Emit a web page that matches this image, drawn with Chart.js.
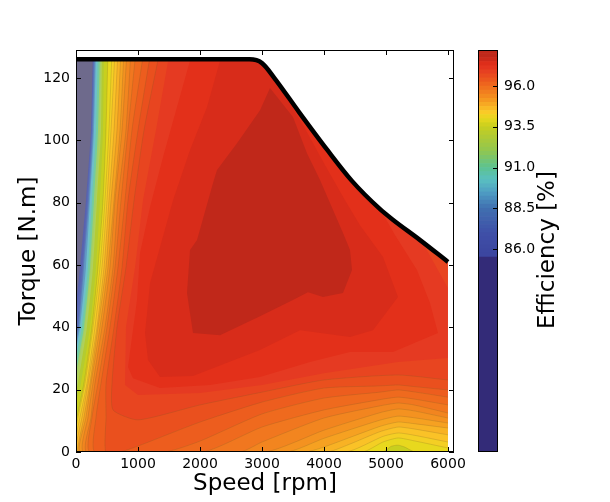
<!DOCTYPE html>
<html>
<head>
<meta charset="utf-8">
<style>
  html, body { margin: 0; background: #fff; }
  canvas { position: absolute; left: 0; top: 0; }
</style>
<script src="https://cdn.jsdelivr.net/npm/chart.js@4"></script>
</head>
<body>
<canvas id="map" width="610" height="502"></canvas>
<canvas id="bar" width="610" height="502"></canvas>
<script>
// torque limit of the machine [rpm, N.m]
const limitSpeed = [0, 2800, 3000, 3200, 3600, 4050, 4450, 4900, 5100, 5550, 6000];
const limitTorque = [126, 126, 124.8, 120, 109, 97, 87, 78, 74.7, 68, 61];

const speedTicks = [0, 1000, 2000, 3000, 4000, 5000, 6000];
const torqueTicks = [0, 20, 40, 60, 80, 100, 120];
const efficiencyTicks = [86, 88.5, 91, 93.5, 96];

// region at or above each level as [rpm, N.m]
const contourLevels = [86, 87, 88, 89, 90, 91, 92, 92.5, 93, 93.5, 94, 94.25, 94.5, 94.75, 95,
  95.25, 95.5, 95.75, 96, 96.25, 96.5, 96.75, 97, 97.25, 97.5];
const contourPaths = [
  [[6000,0],[0,0],[0,45.6],[65,59.3],[161,80.8],[242,103.3],[274,129]],
  [[6000,0],[0,0],[0,40.7],[97,59.3],[177,80.8],[250,103.3],[282,129]],
  [[6000,0],[0,0],[0,36.6],[32,40.1],[113,59.3],[194,80.8],[258,103.3],[290,129]],
  [[6000,0],[0,0],[0,34],[48,40.1],[129,59.3],[210,80.8],[274,103.3],[306,129]],
  [[6000,0],[0,0],[0,32.1],[65,40.1],[161,59.3],[226,80.8],[290,103.3],[323,129]],
  [[6000,0],[0,0],[0,28.9],[97,40.1],[194,59.3],[258,80.8],[323,103.3],[355,129]],
  [[6000,0],[0,0],[0,24.4],[129,40.1],[226,59.3],[290,80.8],[355,103.3],[387,129]],
  [[6000,0],[0,0],[0,21.8],[145,40.1],[242,59.3],[323,80.8],[379,103.3],[403,129]],
  [[6000,0],[0,0],[0,19.2],[32,22.1],[177,40.1],[274,59.3],[339,80.8],[403,103.3],[419,129]],
  [[6000,0],[0,0],[0,15.1],[81,22.1],[226,40.1],[323,59.3],[387,80.8],[436,103.3],[452,129]],
  [[6000,0],[5468,0],[5300,1.6],[5194,2.2],[5080,1.8],[4952,0],[0,0],[0,10.3],[16,11.2],[129,22.1],[258,40.1],[355,59.3],[436,80.8],[484,103.3],[516,129]],
  [[6000,1.3],[5450,3.6],[5194,4.5],[4950,3.2],[4620,0],[0,0],[0,7.7],[32,11.2],[145,22.1],[274,40.1],[387,59.3],[468,80.8],[532,103.3],[581,129]],
  [[6000,3.2],[5450,5.4],[5194,6.1],[4950,5],[4350,0],[0,0],[0,4.8],[65,11.2],[177,22.1],[306,40.1],[419,59.3],[500,80.8],[565,103.3],[629,129]],
  [[6000,5.5],[5450,7.4],[5194,8],[4900,6.5],[4400,2.4],[4050,0],[0,0],[0,2.2],[97,11.2],[194,22.1],[339,40.1],[452,59.3],[532,80.8],[613,103.3],[677,129]],
  [[6000,7.7],[5450,9.1],[5194,9.6],[4900,8.2],[4000,1.6],[3700,0],[32,0],[129,11.2],[226,22.1],[355,40.1],[484,59.3],[565,80.8],[661,103.3],[726,129]],
  [[6000,9.3],[5450,11],[5194,11.5],[4900,10.2],[4000,4.4],[3400,0],[65,0],[161,11.2],[242,22.1],[387,40.1],[516,59.3],[613,80.8],[710,103.3],[774,129]],
  [[6000,10.9],[5450,13.2],[5194,13.8],[4900,12.6],[4000,7],[3050,0],[129,0],[194,11.2],[274,22.1],[419,40.1],[548,59.3],[629,80.8],[742,103.3],[823,129]],
  [[6000,12.5],[5450,15.1],[5194,15.7],[4900,14.8],[4000,10.9],[3000,3.2],[2645,0],[177,0],[242,11.2],[306,22.1],[468,40.1],[597,59.3],[677,80.8],[806,103.3],[887,129]],
  [[6000,15.1],[5450,17],[5194,17.6],[4900,16.8],[4000,13.5],[3000,8],[2049,0],[226,0],[258,11.2],[355,22.1],[500,40.1],[629,59.3],[726,80.8],[839,103.3],[968,129]],
  [[6000,17.6],[5450,19.3],[5194,19.9],[4900,19.2],[4000,17.3],[3000,12.2],[2000,3.5],[1436,0],[306,0],[323,11.2],[403,22.1],[548,40.1],[677,59.3],[790,80.8],[903,103.3],[1097,129]],
  [[6000,19.9],[5450,21],[5194,21.5],[4900,21.2],[4000,20.5],[3000,16],[2000,9.6],[1000,1.9],[710,0],[480,0],[484,11.2],[484,22.1],[613,40.1],[742,59.3],[839,80.8],[1000,103.3],[1210,129]],
  [[6000,23.1],[5194,24.7],[4000,23.1],[3000,19.2],[2000,15.1],[1000,10.3],[597,13.5],[581,22.1],[661,40.1],[806,59.3],[936,80.8],[1097,103.3],[1355,129]],
  [[5597,67],[6000,52.6],[6000,30.2],[5194,28.9],[4000,25.3],[3000,21.5],[2000,18.9],[1000,18.3],[790,21.5],[806,40.1],[952,59.3],[1080,80.8],[1290,103.3],[1516,129]],
  [[4791,82],[5145,69.6],[5500,58.4],[5710,47.8],[5839,38.2],[5113,32.1],[4420,32.1],[3775,28.9],[2968,24.1],[2161,21.5],[1355,20.5],[919,23.7],[839,27.3],[984,48.8],[1032,63.8],[1194,78.6],[1403,94.6],[1629,110.7],[1887,129]],
  [[3000,125.1],[3371,114.5],[3662,104.9],[4016,92.1],[4339,80.8],[4581,72.8],[4952,62.6],[5194,49.7],[4791,39.1],[4420,36.9],[3613,39.1],[2968,32.7],[1887,24.4],[1355,24.1],[1161,29.5],[1113,38.2],[1194,54.2],[1387,68],[1565,80.8],[1839,96.9],[2113,110.7],[2371,129]]
];

// closed island in the middle of the map
const coreLevel = 97.75;
const corePath = [[1839,64.8],[1790,51],[1887,38.2],[2323,37.5],[2968,43.6],[3500,48.8],[3742,51.3],[3984,49.7],
  [4307,51],[4452,58.4],[4420,64.8],[4307,70.3],[3936,87.3],[3726,95.9],[3500,107.5],[3129,116.8],[2968,109.7],
  [2597,99.1],[2274,90.5],[2210,86.3],[1952,68]];

// bands of the colour bar
const barEdges = [85.5, 85.75, 86, 86.25, 86.5, 86.75, 87, 87.25, 87.5, 87.75, 88, 88.25, 88.5, 88.75, 89, 89.25, 89.5,
  89.75, 90, 90.25, 90.5, 90.75, 91, 91.25, 91.5, 91.75, 92, 92.25, 92.5, 92.75, 93, 93.25, 93.5, 93.75, 94, 94.25,
  94.5, 94.75, 95, 95.25, 95.5, 95.75, 96, 96.25, 96.5, 96.75, 97, 97.25, 97.5, 97.75, 98, 98.25];
const barBottom = 73.55;
const barTop = 98.21;

const stopLevels = [85.75, 87, 88.5, 89.5, 90.25, 91, 92, 93, 93.5, 94, 94.4, 95.1, 96, 96.5, 97, 97.25, 97.5, 97.75];
const stopColors = ['#3c46a0', '#3f50a8', '#4070b0', '#4f9fc4', '#5ac0c0', '#5cc290', '#90c650', '#b4cb30', '#c8cf1e',
  '#e8d81e', '#fbc928', '#f59a20', '#ef6a1e', '#ea501e', '#e53a22', '#e3301a', '#d82c1a', '#c0281a'];

function rgb(hex) {
  return [1, 3, 5].map(i => parseInt(hex.slice(i, i + 2), 16));
}

function colorFor(level, wash = 0) {
  let c = rgb(stopColors[stopColors.length - 1]);
  if (level <= stopLevels[0]) {
    c = rgb(stopColors[0]);
  } else {
    for (let i = 1; i < stopLevels.length; i++) {
      if (level <= stopLevels[i]) {
        const t = (level - stopLevels[i - 1]) / (stopLevels[i] - stopLevels[i - 1]);
        const a = rgb(stopColors[i - 1]), b = rgb(stopColors[i]);
        c = a.map((v, k) => v + (b[k] - v) * t);
        break;
      }
    }
  }
  return `rgb(${c.map(v => Math.round(v + (255 - v) * wash)).join(',')})`;
}

const toPoints = path => path.map(([x, y]) => ({ x, y }));

function polygon(points, color, seam, tension = 0) {
  return {
    data: points,
    showLine: true,
    fill: 'shape',
    backgroundColor: color,
    borderColor: seam || 'rgba(0,0,0,0)',
    borderWidth: seam ? 0.6 : 0,
    pointRadius: 0,
    tension
  };
}

const topRight = [6100, 129];
const limitPath = limitSpeed.map((s, i) => [s, limitTorque[i]]);

const layers = contourLevels.map((level, i) => {
  const path = contourPaths[i];
  const striped = level >= 94 && level <= 96.75;
  // last point twice so the run to the corner does not bend the contour
  return polygon(
    toPoints(path.concat([path[path.length - 1], topRight])),
    colorFor(level, level < 93 ? 0.14 : 0),
    striped ? 'rgba(110,90,40,0.35)' : null,
    level <= 96.75 ? 0.2 : 0
  );
});
layers.unshift(polygon(toPoints([[0, 0], [6100, 0], [6100, 129], [0, 129]]), '#6e6a8c'));
layers.push(polygon(toPoints(corePath), colorFor(coreLevel)));

// white cover above the limit and past 6000 rpm
const cover = polygon(toPoints(limitPath.concat([[6000, 0], [6100, 0], [6100, 129], [0, 129]])), '#ffffff');

const limitLine = {
  data: toPoints(limitPath),
  showLine: true,
  fill: false,
  borderColor: '#000000',
  borderWidth: 4.5,
  pointRadius: 0,
  cubicInterpolationMode: 'monotone'
};

Chart.defaults.font.family = '"DejaVu Sans"';
Chart.defaults.font.size = 14;
Chart.defaults.color = '#000000';
Chart.defaults.animation = false;
Chart.defaults.devicePixelRatio = 1;

const inwardTicks = {
  id: 'inwardTicks',
  afterDatasetsDraw(chart) {
    const { ctx, chartArea: a, scales } = chart;
    ctx.save();
    ctx.strokeStyle = '#000000';
    ctx.lineWidth = 1;
    ctx.strokeRect(a.left + 0.5, a.top + 0.5, a.right - a.left - 1, a.bottom - a.top - 1);
    ctx.beginPath();
    scales.x.ticks.forEach(t => {
      const x = Math.round(scales.x.getPixelForValue(t.value)) + 0.5;
      ctx.moveTo(x, a.bottom); ctx.lineTo(x, a.bottom - 5);
      ctx.moveTo(x, a.top); ctx.lineTo(x, a.top + 5);
    });
    scales.y.ticks.forEach(t => {
      const y = Math.round(scales.y.getPixelForValue(t.value)) + 0.5;
      ctx.moveTo(a.left, y); ctx.lineTo(a.left + 5, y);
      ctx.moveTo(a.right, y); ctx.lineTo(a.right - 5, y);
    });
    ctx.stroke();
    ctx.restore();
  }
};

new Chart(document.getElementById('map'), {
  type: 'scatter',
  data: { datasets: [limitLine, cover].concat(layers.slice().reverse()) },
  options: {
    responsive: false,
    layout: { padding: { top: 50, right: 156 } },
    plugins: { legend: { display: false }, tooltip: { enabled: false } },
    scales: {
      x: {
        min: 0,
        max: 6097,
        afterBuildTicks: s => { s.ticks = speedTicks.map(value => ({ value })); },
        afterFit: s => { s.height = 50; },
        grid: { display: false, drawTicks: false },
        border: { display: false },
        ticks: { maxRotation: 0, padding: 4, autoSkip: false, callback: v => String(v) },
        title: { display: true, text: 'Speed [rpm]', font: { size: 23 }, padding: { top: 0, bottom: 4 } }
      },
      y: {
        min: 0,
        max: 129,
        afterBuildTicks: s => { s.ticks = torqueTicks.map(value => ({ value })); },
        afterFit: s => { s.width = 76; },
        grid: { display: false, drawTicks: false },
        border: { display: false },
        ticks: { padding: 6, autoSkip: false, callback: v => String(v) },
        title: { display: true, text: 'Torque [N.m]', font: { size: 23 }, padding: { top: 15, bottom: 0 } }
      }
    }
  },
  plugins: [inwardTicks]
});

const barBands = [{ lo: barBottom, hi: barEdges[0], color: '#332b78' }];
for (let i = 0; i + 1 < barEdges.length; i++) {
  barBands.push({ lo: barEdges[i], hi: barEdges[i + 1], color: colorFor(barEdges[i] + 0.125) });
}

const barFrame = {
  id: 'barFrame',
  afterDatasetsDraw(chart) {
    const { ctx, chartArea: a, scales } = chart;
    ctx.save();
    ctx.strokeStyle = '#000000';
    ctx.lineWidth = 1;
    ctx.strokeRect(a.left + 0.5, a.top + 0.5, a.right - a.left - 1, a.bottom - a.top - 1);
    ctx.beginPath();
    scales.y.ticks.forEach(t => {
      const y = Math.round(scales.y.getPixelForValue(t.value)) + 0.5;
      ctx.moveTo(a.right, y); ctx.lineTo(a.right - 5, y);
    });
    ctx.stroke();
    ctx.translate(548, 250);
    ctx.rotate(-Math.PI / 2);
    ctx.font = '23px "DejaVu Sans"';
    ctx.fillStyle = '#000000';
    ctx.textAlign = 'center';
    ctx.textBaseline = 'middle';
    ctx.fillText('Efficiency [%]', 0, 0);
    ctx.restore();
  }
};

new Chart(document.getElementById('bar'), {
  type: 'bar',
  data: {
    labels: [''],
    datasets: barBands.map(b => ({
      data: [[b.lo, b.hi]],
      backgroundColor: b.color,
      borderWidth: 0,
      grouped: false,
      barPercentage: 1,
      categoryPercentage: 1
    }))
  },
  options: {
    responsive: false,
    layout: { padding: { left: 478, top: 50, bottom: 50 } },
    plugins: { legend: { display: false }, tooltip: { enabled: false } },
    scales: {
      x: { display: false },
      y: {
        position: 'right',
        min: barBottom,
        max: barTop,
        afterBuildTicks: s => { s.ticks = efficiencyTicks.map(value => ({ value })); },
        afterFit: s => { s.width = 112; },
        grid: { display: false, drawTicks: false },
        border: { display: false },
        ticks: { padding: 6, autoSkip: false, callback: v => v.toFixed(1) }
      }
    }
  },
  plugins: [barFrame]
});
</script>
</body>
</html>
